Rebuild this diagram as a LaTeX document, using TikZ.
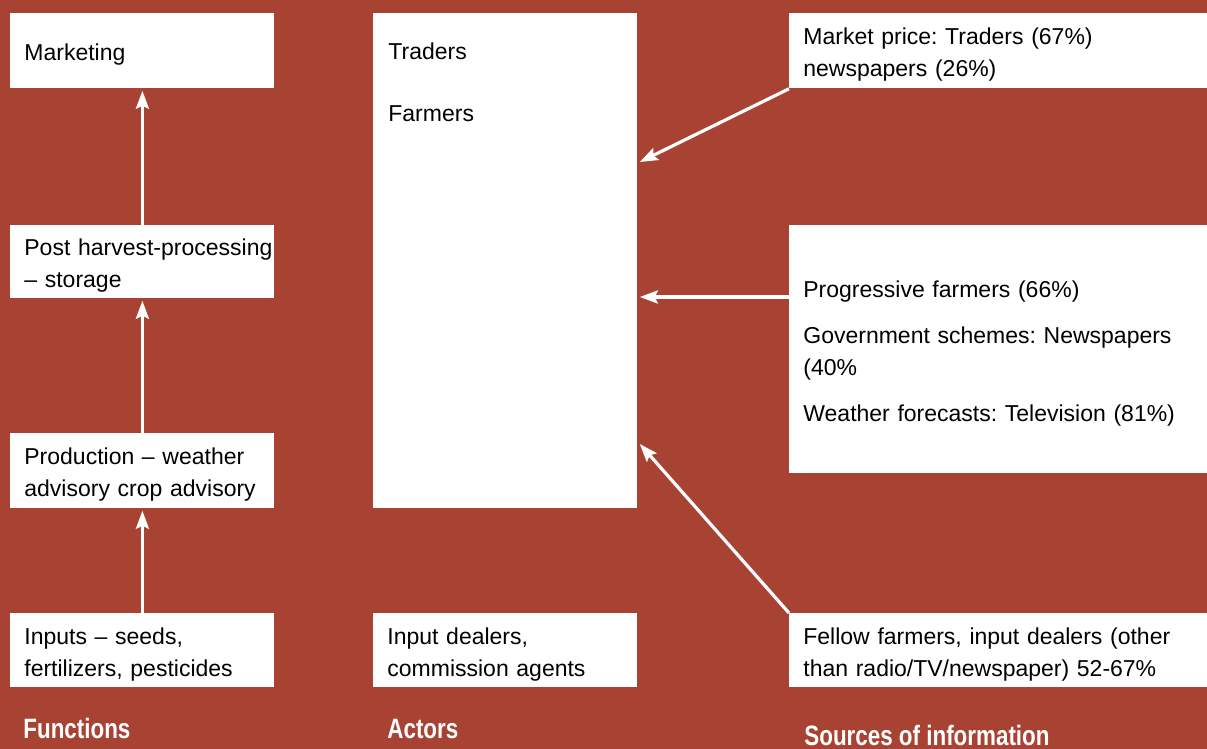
\documentclass[tikz,border=0pt]{standalone}
\usepackage{fontspec}
\setmainfont{Liberation Sans}
\newfontfamily\headfont{Liberation Sans}[FakeStretch=0.8]
\usepackage{tikz}
\usetikzlibrary{calc, arrows.meta}
\usepackage{xcolor}
\definecolor{brick}{HTML}{A84334}
\hbadness=10000
\hfuzz=20pt
\frenchspacing

\begin{document}
\begin{tikzpicture}[x=0.5pt, y=0.5pt]
			\tikzstyle{infonode}=[
			rectangle,
			fill=white,
			anchor=north west,
			inner xsep=7pt,
			inner ysep=0pt,
			text width=118pt,
			minimum width=132pt,
			align=left,
			execute at begin node={\rule{0pt}{12pt}},
			font=\fontsize{11.5}{16}\selectfont
			]
			\tikzstyle{widenode}=[infonode, text width=195pt, minimum width=209pt]
			\tikzstyle{linenode}=[anchor=base west, inner sep=0pt, font=\fontsize{11.5}{16}\selectfont]
			\tikzstyle{headnode}=[
			anchor=base west,
			inner sep=0pt,
			text=white,
			font=\headfont\bfseries\fontsize{14}{16}\selectfont
			]
			\tikzstyle{flow}=[draw=white, line width=1.6pt, -{Stealth[length=9pt,width=6.5pt,inset=1.5pt]}]
			\fill[brick] (0,0) rectangle (1207,749);
			\useasboundingbox (0,0) rectangle (1207,749);
			% functions
			\node[infonode, minimum height=37.5pt] (MKT) at (10,736) {Marketing};
			\node[infonode, minimum height=36.5pt] (POST) at (10,524) {\mbox{Post harvest-processing}\\– storage};
			\node[infonode, minimum height=37.5pt] (PROD) at (10,316) {Production – weather\\advisory crop advisory};
			\node[infonode, minimum height=37pt] (INP) at (10,136) {Inputs – seeds,\\fertilizers, pesticides};
			% actors
			\node[infonode, minimum height=247.5pt] (ACT) at (373,736) {};
			\node[linenode] (TRD) at (388,689) {Traders};
			\node[linenode] (FRM) at (388,627) {Farmers};
			\node[infonode, minimum height=37pt] (DLR) at (373,136) {Input dealers,\\commission agents};
			% sources
			\node[widenode, minimum height=37.5pt] (SRC1) at (789,736) {Market price: Traders (67\%)\\newspapers (26\%)};
			\node[widenode, minimum height=124pt] (SRC2) at (789,524) {Progressive farmers (66\%)\\[7pt]Government schemes: Newspapers\\(40\%\\[7pt]Weather forecasts: Television (81\%)};
			\node[widenode, minimum height=37pt] (SRC3) at (789,136) {Fellow farmers, input dealers (other\\than radio/TV/newspaper) 52-67\%};
			%
			\node[headnode] (FUN) at (23,10) {Functions};
			\node[headnode] (ACTH) at (387,10) {Actors};
			\node[headnode] (SRCH) at (804,3) {Sources of information};
			%
			\draw[flow, shorten >=1pt] (INP.north) -- (PROD.south);
			\draw[flow, shorten >=1pt] (PROD.north) -- (POST.south);
			\draw[flow, shorten >=1pt] (POST.north) -- (MKT.south);
			\coordinate (T1) at ($(ACT.north east)+(2,-149)$);
			\coordinate (T2) at ($(ACT.north east)+(2,-284)$);
			\coordinate (T3) at ($(ACT.north east)+(2,-431)$);
			\draw[flow] (SRC1.south west) -- (T1);
			\draw[flow] (T2 -| SRC2.west) -- (T2);
			\draw[flow] (SRC3.north west) -- (T3);
		\end{tikzpicture}
\end{document}
